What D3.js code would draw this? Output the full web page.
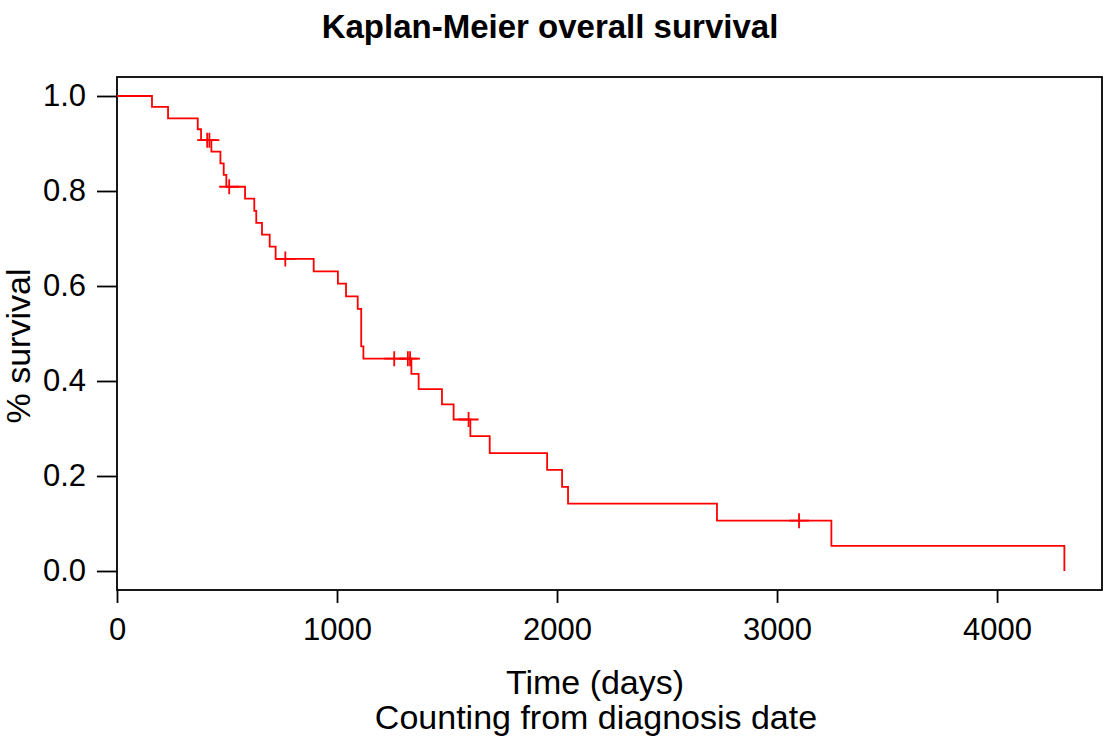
<!DOCTYPE html>
<html>
<head>
<meta charset="utf-8">
<script src="https://cdn.jsdelivr.net/npm/d3@7"></script>
<style>
  html, body { margin: 0; padding: 0; background: #fff; }
  svg text { font-family: "Liberation Sans", Arial, sans-serif; fill: #000; }
</style>
</head>
<body>
<svg id="chart" width="1110" height="749"></svg>
<script>
// Step times (days) where the survival estimate changes
const stepTimes = [0, 159, 232, 367, 382, 429, 470, 485, 497, 582, 624, 633, 659, 694, 721,
  894, 1004, 1041, 1094, 1110, 1120, 1338, 1371, 1477, 1530, 1606, 1694, 1955, 2023, 2050,
  2727, 3247, 4306];
// Survival level that starts at each step time
const survival = [1.0, 0.977, 0.953, 0.930, 0.907, 0.883, 0.858, 0.834, 0.809, 0.784, 0.758,
  0.733, 0.708, 0.683, 0.657, 0.631, 0.605, 0.578, 0.552, 0.473, 0.447, 0.415, 0.383, 0.351,
  0.319, 0.284, 0.248, 0.213, 0.177, 0.142, 0.106, 0.053, 0.0];
// Censored observations ("+" marks)
const censorTimes = [410, 420, 510, 765, 1260, 1322, 1332, 1598, 3100];
const censorSurvival = [0.907, 0.907, 0.809, 0.657, 0.447, 0.447, 0.447, 0.319, 0.106];

const xTicks = [0, 1000, 2000, 3000, 4000];
const yTicks = [0, 0.2, 0.4, 0.6, 0.8, 1.0];

const plot = { left: 117, right: 1102, top: 77, bottom: 590 };

const svg = d3.select('#chart');

const x = d3.scaleLinear().domain([0, 4477]).range([plot.left, plot.right]);
const y = d3.scaleLinear().domain([-0.04, 1.04]).range([plot.bottom, plot.top]);

// title
svg.append('text')
  .attr('x', 550).attr('y', 38)
  .attr('text-anchor', 'middle')
  .style('font-size', '33px').style('font-weight', 'bold')
  .text('Kaplan-Meier overall survival');

// box around the plot region
svg.append('rect')
  .attr('x', plot.left).attr('y', plot.top)
  .attr('width', plot.right - plot.left).attr('height', plot.bottom - plot.top)
  .attr('fill', 'none').attr('stroke', '#000').attr('stroke-width', 1.8);

// axes
const xAxis = svg.append('g')
  .attr('transform', `translate(0,${plot.bottom})`)
  .call(d3.axisBottom(x).tickValues(xTicks).tickFormat(d3.format('d')).tickSize(13).tickPadding(15));
const yAxis = svg.append('g')
  .attr('transform', `translate(${plot.left},0)`)
  .call(d3.axisLeft(y).tickValues(yTicks).tickFormat(d3.format('.1f')).tickSize(20).tickPadding(11));

[xAxis, yAxis].forEach((ax) => {
  ax.select('.domain').remove();
  ax.selectAll('line').attr('stroke', '#000').attr('stroke-width', 1.8);
  ax.selectAll('text').style('font-size', '31px').attr('fill', '#000');
});

// axis titles
svg.append('text')
  .attr('transform', 'translate(30,346) rotate(-90)')
  .attr('text-anchor', 'middle')
  .style('font-size', '34px')
  .text('% survival');

svg.append('text')
  .attr('x', 595).attr('y', 694)
  .attr('text-anchor', 'middle')
  .style('font-size', '34px')
  .text('Time (days)');
svg.append('text')
  .attr('x', 596).attr('y', 729)
  .attr('text-anchor', 'middle')
  .style('font-size', '34px')
  .text('Counting from diagnosis date');

// survival step curve
const steps = stepTimes.map((t, i) => ({ t, s: survival[i] }));
const line = d3.line()
  .x((d) => x(d.t))
  .y((d) => y(d.s))
  .curve(d3.curveStepAfter);

svg.append('path')
  .datum(steps)
  .attr('d', line)
  .attr('fill', 'none')
  .attr('stroke', '#ff0000')
  .attr('stroke-width', 1.8);

// censor marks
const censors = censorTimes.map((t, i) => ({ t, s: censorSurvival[i] }));
const marks = svg.append('g').attr('stroke', '#ff0000').attr('stroke-width', 1.8);
marks.selectAll('path')
  .data(censors)
  .join('path')
  .attr('fill', 'none')
  .attr('d', (d) => {
    const cx = x(d.t), cy = y(d.s);
    return `M${cx - 10},${cy}H${cx + 10}M${cx},${cy - 7.5}V${cy + 7.5}`;
  });
</script>
</body>
</html>
